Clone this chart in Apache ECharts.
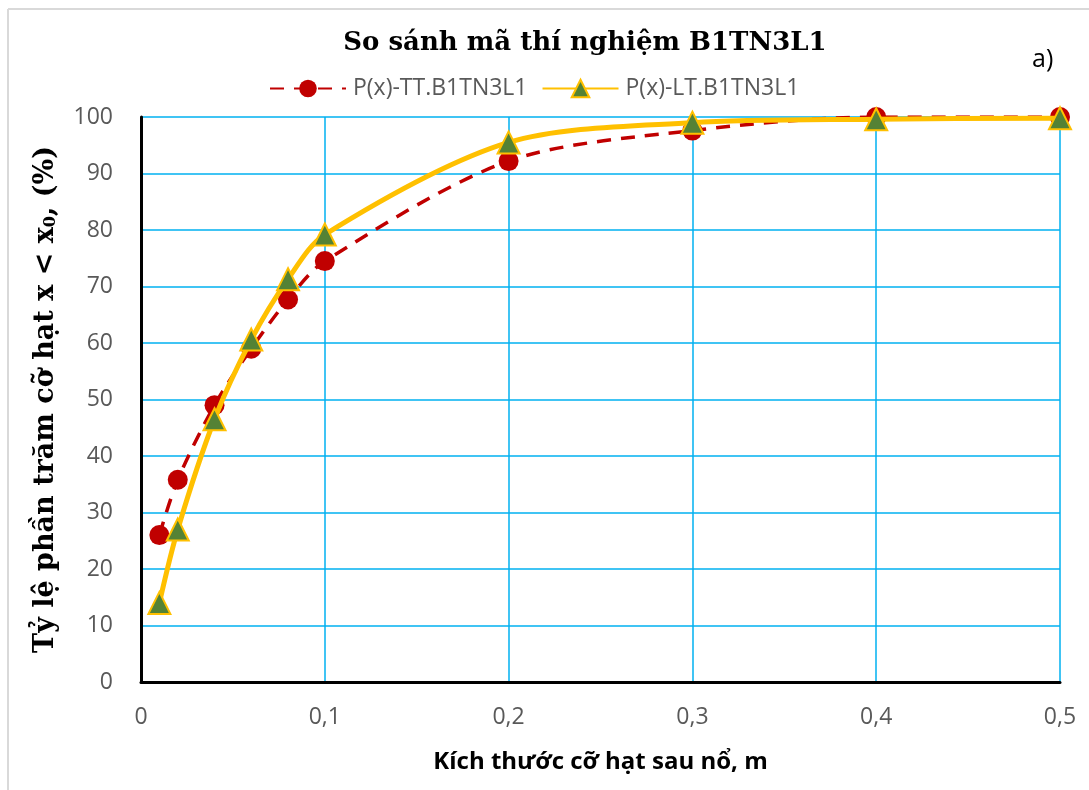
<!DOCTYPE html>
<html>
<head>
<meta charset="utf-8">
<script src="https://cdn.jsdelivr.net/npm/echarts@6/dist/echarts.min.js"></script>
<style>
html,body{margin:0;padding:0;background:#fff;}
#chart{width:1089px;height:790px;}
</style>
</head>
<body>
<div id="chart"></div>
<script>
const titleText = 'So sánh mã thí nghiệm B1TN3L1';
const xName = 'Kích thước cỡ hạt sau nổ, m';
const yNameMain = 'Tỷ lệ phần trăm cỡ hạt x < x';
const yNameSub = '0';
const yNameTail = ', (%)';
const seriesNames = ['P(x)-TT.B1TN3L1', 'P(x)-LT.B1TN3L1'];
const sizes = [0.01, 0.02, 0.04, 0.06, 0.08, 0.1, 0.2, 0.3, 0.4, 0.5];
const ttValues = [26.0, 35.8, 49.0, 59.0, 67.7, 74.5, 92.2, 97.6, 100, 100];
const ltValues = [14.0, 27.0, 46.5, 60.6, 71.3, 79.2, 95.5, 99.0, 99.6, 99.8];
const xTicks = { min: 0, max: 0.5, interval: 0.1 };
const yTicks = { min: 0, max: 100, interval: 10 };

const chart = echarts.init(document.getElementById('chart'));
const pair = (vals) => sizes.map((x, i) => [x, vals[i]]);

chart.setOption({
  backgroundColor: '#fff',
  animation: false,
  title: {
    text: titleText,
    left: 580, top: 25, textAlign: 'center',
    textStyle: { fontFamily: 'DejaVu Serif', fontWeight: 'bold', fontSize: 26, color: '#000' }
  },
  legend: {
    top: 72, left: 264,
    itemGap: 14,
    itemWidth: 76, itemHeight: 22,
    textStyle: { fontFamily: 'Open Sans', fontSize: 23, color: '#595959', padding: [0,0,0,2] },
    data: seriesNames
  },
  graphic: [
    { type: 'text', left: 1032, top: 47, style: { text: 'a)', fontFamily: 'Open Sans', fontSize: 25, fill: '#000' } },
    { type: 'line', shape: { x1: 8, y1: 9, x2: 1089, y2: 9 }, style: { stroke: '#d9d9d9', lineWidth: 2 } },
    { type: 'line', shape: { x1: 8, y1: 9, x2: 8, y2: 790 }, style: { stroke: '#d9d9d9', lineWidth: 2 } }
  ],
  grid: { left: 141, right: 29, top: 117, bottom: 108, containLabel: false },
  xAxis: {
    type: 'value', min: xTicks.min, max: xTicks.max, interval: xTicks.interval,
    name: xName, nameLocation: 'middle', nameGap: 68,
    nameTextStyle: { fontFamily: 'Open Sans', fontWeight: 'bold', fontSize: 24, color: '#000' },
    axisLine: { show: true, onZero: false, lineStyle: { color: '#000', width: 3 } },
    axisTick: { show: false },
    axisLabel: {
      margin: 24, fontFamily: 'Open Sans', fontSize: 23, color: '#595959',
      formatter: v => (v === 0 ? '0' : String(+v.toFixed(2)).replace('.', ','))
    },
    splitLine: { show: true, lineStyle: { color: '#00b0f0', width: 1.5 } }
  },
  yAxis: {
    type: 'value', min: yTicks.min, max: yTicks.max, interval: yTicks.interval,
    name: '{a|' + yNameMain + '}{s|' + yNameSub + '}{a|' + yNameTail + '}',
    nameLocation: 'middle', nameGap: 70, nameRotate: 90,
    nameTextStyle: {
      fontFamily: 'DejaVu Serif', fontWeight: 'bold', fontSize: 27, color: '#000',
      rich: {
        a: { fontFamily: 'DejaVu Serif', fontWeight: 'bold', fontSize: 27, color: '#000', lineHeight: 34, verticalAlign: 'middle' },
        s: { fontFamily: 'DejaVu Serif', fontWeight: 'bold', fontSize: 16, color: '#000', lineHeight: 34, verticalAlign: 'bottom', padding: [0,0,4,0] }
      }
    },
    axisLine: { show: true, lineStyle: { color: '#000', width: 3 } },
    axisTick: { show: false },
    axisLabel: { margin: 28, fontFamily: 'Open Sans', fontSize: 23, color: '#595959' },
    splitLine: { show: true, lineStyle: { color: '#00b0f0', width: 1.5 } }
  },
  series: [
    {
      name: seriesNames[0], type: 'line', data: pair(ttValues),
      smooth: 0.3,
      symbol: 'circle', symbolSize: 20,
      itemStyle: { color: '#c00000' },
      lineStyle: { color: '#c00000', width: 3.5, type: [14, 10] },
      z: 2
    },
    {
      name: seriesNames[1], type: 'line', data: pair(ltValues),
      smooth: 0.3,
      symbol: 'triangle', symbolSize: 22,
      itemStyle: { color: '#548235', borderColor: '#ffc000', borderWidth: 2 },
      lineStyle: { color: '#ffc000', width: 5 },
      z: 3
    }
  ]
});
</script>
</body>
</html>
